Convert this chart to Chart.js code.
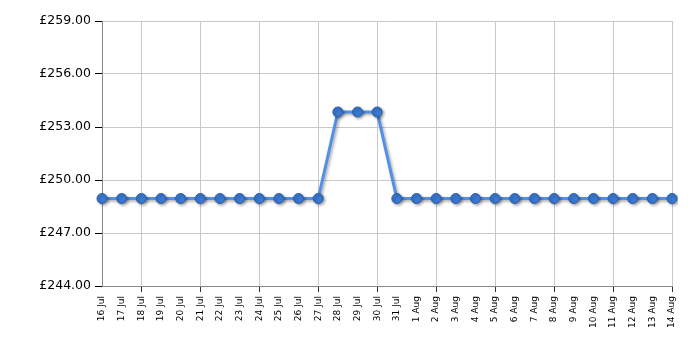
<!DOCTYPE html>
<html>
<head>
<meta charset="utf-8">
<script src="https://cdn.jsdelivr.net/npm/chart.js@4"></script>
<style>
  html, body { margin: 0; padding: 0; background: #fff; }
</style>
</head>
<body>
<canvas id="grafico" width="700" height="350"></canvas>
<script>
var fechas = ['16 Jul', '17 Jul', '18 Jul', '19 Jul', '20 Jul', '21 Jul', '22 Jul', '23 Jul', '24 Jul', '25 Jul',
    '26 Jul', '27 Jul', '28 Jul', '29 Jul', '30 Jul', '31 Jul', '1 Aug', '2 Aug', '3 Aug', '4 Aug',
    '5 Aug', '6 Aug', '7 Aug', '8 Aug', '9 Aug', '10 Aug', '11 Aug', '12 Aug', '13 Aug', '14 Aug'];
var precios = [248.95, 248.95, 248.95, 248.95, 248.95, 248.95, 248.95, 248.95, 248.95, 248.95,
    248.95, 248.95, 253.85, 253.85, 253.85, 248.95, 248.95, 248.95, 248.95, 248.95,
    248.95, 248.95, 248.95, 248.95, 248.95, 248.95, 248.95, 248.95, 248.95, 248.95];
var yMin = 244;
var yMax = 259;
var yPaso = 3;

// sombra debajo de la linea y los puntos
var sombra = {
    id: 'sombra',
    beforeDatasetsDraw: function (chart) {
        var ctx = chart.ctx;
        ctx.save();
        ctx.shadowColor = 'rgba(0,0,0,0.35)';
        ctx.shadowOffsetX = 1.5;
        ctx.shadowOffsetY = 1.5;
        ctx.shadowBlur = 3;
    },
    afterDatasetsDraw: function (chart) {
        chart.ctx.restore();
    }
};

function marcaGrid(ctx) {
    // lineas verticales cada 3 dias empezando en el tercer dia
    if (ctx.index >= 2 && (ctx.index - 2) % 3 === 0) return '#c8c8c8';
    return 'rgba(0,0,0,0)';
}

var ctx = document.getElementById('grafico').getContext('2d');
var miGrafico = new Chart(ctx, {
    type: 'line',
    data: {
        labels: fechas,
        datasets: [{
            data: precios,
            borderColor: '#5090e6',
            borderWidth: 3,
            tension: 0,
            pointRadius: 5,
            pointHoverRadius: 5,
            pointBackgroundColor: '#3b78d2',
            pointBorderColor: '#2a5ea6',
            pointBorderWidth: 1
        }]
    },
    options: {
        responsive: false,
        animation: false,
        layout: { padding: { top: 21, right: 28, left: 0, bottom: 0 } },
        plugins: {
            legend: { display: false },
            tooltip: { enabled: false }
        },
        scales: {
            x: {
                offset: false,
                afterFit: function (scale) { scale.height = 64; },
                grid: {
                    color: marcaGrid,
                    lineWidth: 1,
                    tickLength: 6,
                    tickColor: function (c) {
                        if (c.index >= 2 && (c.index - 2) % 3 === 0) return '#333';
                        return 'rgba(0,0,0,0)';
                    }
                },
                border: { color: '#888', width: 1 },
                ticks: {
                    autoSkip: false,
                    minRotation: 90,
                    maxRotation: 90,
                    padding: 4,
                    color: '#000',
                    font: { family: 'DejaVu Sans', size: 9 }
                }
            },
            y: {
                min: yMin,
                max: yMax,
                afterFit: function (scale) { scale.width = 102; },
                grid: {
                    color: '#c8c8c8',
                    tickLength: 7,
                    tickColor: '#000'
                },
                border: { color: '#888', width: 1 },
                ticks: {
                    stepSize: yPaso,
                    padding: 4,
                    color: '#000',
                    font: { family: 'DejaVu Sans', size: 12.5 },
                    callback: function (v) { return '£' + v.toFixed(2); }
                }
            }
        }
    },
    plugins: [sombra]
});
</script>
</body>
</html>
